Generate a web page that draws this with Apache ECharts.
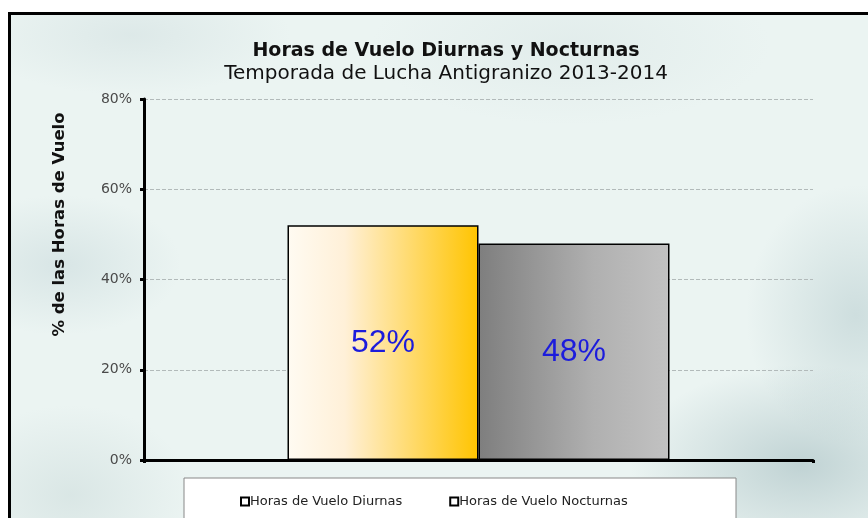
<!DOCTYPE html>
<html>
<head>
<meta charset="utf-8">
<script src="https://cdn.jsdelivr.net/npm/echarts@6/dist/echarts.min.js"></script>
<style>
  html, body { margin: 0; padding: 0; background: #fff; }
  #frame {
    position: absolute; left: 8px; top: 12px; width: 880px; height: 520px;
    border-left: 3px solid #000; border-top: 3px solid #000;
    background:
      radial-gradient(ellipse 170px 100px at 790px 450px, rgba(150,178,182,0.5), rgba(150,178,182,0) 100%),
      radial-gradient(ellipse 110px 130px at 845px 300px, rgba(170,195,198,0.45), rgba(170,195,198,0) 100%),
      radial-gradient(ellipse 120px 70px at 50px 250px, rgba(180,202,206,0.35), rgba(180,202,206,0) 100%),
      radial-gradient(ellipse 160px 60px at 120px 20px, rgba(195,212,214,0.35), rgba(195,212,214,0) 100%),
      radial-gradient(ellipse 200px 80px at 560px 30px, rgba(205,220,220,0.3), rgba(205,220,220,0) 100%),
      radial-gradient(ellipse 120px 90px at 60px 480px, rgba(185,205,205,0.35), rgba(185,205,205,0) 100%),
      #ebf4f2;
  }
  #chart { position: absolute; left: 0; top: 0; width: 868px; height: 518px; }
</style>
</head>
<body>
<div id="frame"></div>
<div id="chart"></div>
<script>
// datos
const categorias = ['Temporada 2013-2014']
const nombresSeries = ['Horas de Vuelo Diurnas', 'Horas de Vuelo Nocturnas']
const diurnas = [52]
const nocturnas = [48]
const ticksY = [0, 20, 40, 60, 80]

const chart = echarts.init(document.getElementById('chart'))

const fuente = 'DejaVu Sans, Verdana, sans-serif'

const etiqueta = {
  show: true,
  position: 'inside',
  formatter: p => p.value + '%',
  fontFamily: 'Liberation Sans, Arial, sans-serif',
  fontSize: 32,
  color: '#1c1cdc'
}

const option = {
  backgroundColor: 'transparent',
  animation: false,
  title: {
    text: 'Horas de Vuelo Diurnas y Nocturnas',
    subtext: 'Temporada de Lucha Antigranizo 2013-2014',
    left: 441,
    textAlign: 'center',
    top: 37,
    itemGap: 3,
    textStyle: {
      fontFamily: fuente,
      fontSize: 19,
      fontWeight: 'bold',
      color: '#111'
    },
    subtextStyle: {
      fontFamily: fuente,
      fontSize: 20,
      color: '#111'
    }
  },
  grid: {
    left: 144,
    right: 55,
    top: 99,
    bottom: 58
  },
  graphic: [
    {
      type: 'rect',
      shape: { x: 184, y: 478, width: 552, height: 60 },
      style: { fill: '#fff', stroke: '#888', lineWidth: 1 },
      z: 0
    }
  ],
  legend: {
    data: nombresSeries,
    left: 235,
    top: 490,
    itemGap: 47,
    itemWidth: 8,
    itemHeight: 8,
    icon: 'rect',
    itemStyle: { color: '#fff', borderColor: '#000', borderWidth: 2 },
    textStyle: {
      fontFamily: fuente,
      fontSize: 13,
      color: '#222',
      padding: [0, 0, 0, -4]
    },
    z: 5
  },
  xAxis: {
    type: 'category',
    data: categorias,
    axisLine: { lineStyle: { color: '#000', width: 3 } },
    axisTick: { show: true, length: 3, lineStyle: { color: '#000', width: 3 } },
    axisLabel: { show: false }
  },
  yAxis: {
    type: 'value',
    min: ticksY[0],
    max: ticksY[ticksY.length - 1],
    interval: 20,
    name: '% de las Horas de Vuelo',
    nameLocation: 'middle',
    nameGap: 76,
    nameTextStyle: {
      fontFamily: fuente,
      fontSize: 16.5,
      fontWeight: 'bold',
      color: '#111',
      padding: [0, 0, 0, 110]
    },
    axisLine: { show: true, lineStyle: { color: '#000', width: 3 } },
    axisTick: { show: true, length: 4, lineStyle: { color: '#000', width: 3 } },
    axisLabel: {
      formatter: '{value}%',
      fontFamily: fuente,
      fontSize: 14,
      color: '#4a4a4a',
      margin: 12
    },
    splitLine: { lineStyle: { color: '#b2baba', type: 'dashed', width: 1 } }
  },
  series: [
    {
      name: nombresSeries[0],
      type: 'bar',
      data: diurnas,
      barWidth: 191,
      barGap: '0%',
      itemStyle: {
        color: new echarts.graphic.LinearGradient(0, 0, 1, 0, [
          { offset: 0, color: '#fffbf2' },
          { offset: 0.3, color: '#fff0d8' },
          { offset: 1, color: '#ffc400' }
        ]),
        borderColor: '#000',
        borderWidth: 1.5
      },
      label: etiqueta
    },
    {
      name: nombresSeries[1],
      type: 'bar',
      data: nocturnas,
      barWidth: 191,
      barGap: '0%',
      itemStyle: {
        color: new echarts.graphic.LinearGradient(0, 0, 1, 0, [
          { offset: 0, color: '#7e7e7e' },
          { offset: 0.6, color: '#b0b0b0' },
          { offset: 1, color: '#c2c2c2' }
        ]),
        borderColor: '#000',
        borderWidth: 1.5
      },
      label: etiqueta
    }
  ]
}

chart.setOption(option)
</script>
</body>
</html>
